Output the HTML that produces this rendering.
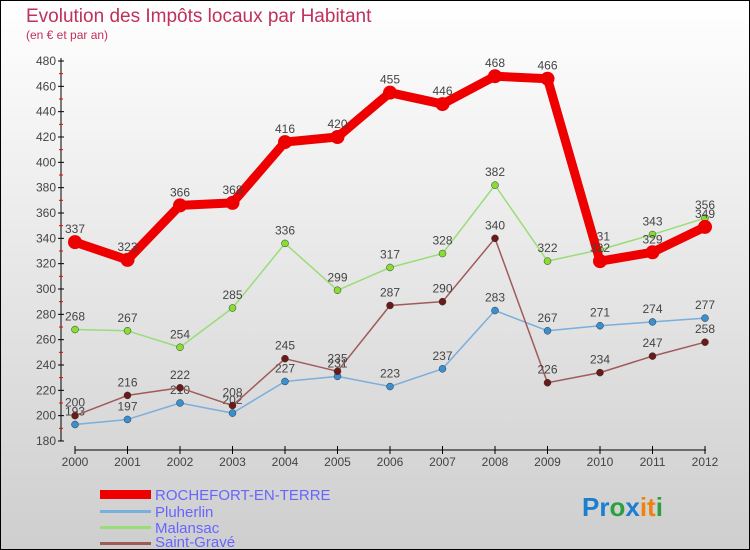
<!DOCTYPE html>
<html><head><meta charset="utf-8"><style>
body{margin:0}
#c{width:750px;height:550px;position:relative;font-family:"Liberation Sans",sans-serif;overflow:hidden}
</style></head><body>
<div id="c">
<svg width="750" height="550" id="svg">
<defs><linearGradient id="bg" x1="0" y1="0" x2="0" y2="1"><stop offset="0" stop-color="#ffffff"/><stop offset="1" stop-color="#cecece"/></linearGradient></defs>
<rect x="0.5" y="0.5" width="749" height="549" fill="url(#bg)" stroke="#000"/>
<text x="26" y="22" font-size="19" fill="#c0305a">Evolution des Impôts locaux par Habitant</text>
<text x="26" y="39" font-size="12" fill="#c0305a">(en € et par an)</text>
<g id="axes"></g><g id="series"></g>
<g>
<rect x="100" y="490" width="51" height="9" fill="#e00"/>
<text x="155" y="500" font-size="15" fill="#6666ff">ROCHEFORT-EN-TERRE</text>
<rect x="100" y="510" width="51" height="3" fill="#7aaedc"/>
<text x="155" y="517" font-size="15" fill="#6666ff">Pluherlin</text>
<rect x="100" y="526" width="51" height="3" fill="#99dd77"/>
<text x="155" y="533" font-size="15" fill="#6666ff">Malansac</text>
<rect x="100" y="542" width="51" height="3" fill="#a05a5a"/>
<text x="155" y="547" font-size="15" fill="#6666ff">Saint-Gravé</text>
</g>
<text x="582" y="516" font-size="26" font-weight="bold"><tspan fill="#1a7fd0">Pr</tspan><tspan fill="#2aa040">o</tspan><tspan fill="#1a7fd0">x</tspan><tspan fill="#f08010">it</tspan><tspan fill="#2aa040">i</tspan></text>
</svg>
</div>
<script>
const years=[2000,2001,2002,2003,2004,2005,2006,2007,2008,2009,2010,2011,2012];
const rochefort=[337,323,366,368,416,420,455,446,468,466,322,329,349];
const pluherlin=[193,197,210,202,227,231,223,237,283,267,271,274,277];
const malansac=[268,267,254,285,336,299,317,328,382,322,331,343,356];
const saintGrave=[200,216,222,208,245,235,287,290,340,226,234,247,258];
const yTicks=[180,200,220,240,260,280,300,320,340,360,380,400,420,440,460,480];
const NS="http://www.w3.org/2000/svg";
function X(i){return 75+i*52.5;}
function Y(v){return 441-(v-180)*380/300;}
function mk(tag,attrs,parent){const e=document.createElementNS(NS,tag);for(const k in attrs)e.setAttribute(k,attrs[k]);parent.appendChild(e);return e;}
const ax=document.getElementById('axes');
let l=mk('line',{x1:61,y1:58,x2:61,y2:441,stroke:'#000','stroke-width':1},ax);


l=mk('line',{x1:75,y1:450,x2:706,y2:450,stroke:'#000','stroke-width':1},ax);


yTicks.forEach((v,k)=>{
 mk('line',{x1:58,x2:64,y1:Y(v),y2:Y(v),stroke:'#000'},ax);
 if(k<yTicks.length-1)mk('line',{x1:59,x2:63,y1:Y(v+10),y2:Y(v+10),stroke:'#e00'},ax);
 const t=mk('text',{x:56,y:Y(v)+4,'font-size':12,fill:'#444','text-anchor':'end'},ax);
 t.textContent=v;
 
 
});
years.forEach((y,i)=>{
 mk('line',{x1:X(i),x2:X(i),y1:446,y2:454,stroke:'#000'},ax);
 const t=mk('text',{x:X(i),y:466,'font-size':12,fill:'#444','text-anchor':'middle'},ax);
 t.textContent=y;
 
 
});
const sg=document.getElementById('series');
function draw(vals,color,w,r,name,dot){
 const g=mk('g',{},sg);
 
 
 const p=mk('polyline',{points:vals.map((v,i)=>X(i)+','+Y(v)).join(' '),fill:'none',stroke:color,'stroke-width':w,'stroke-linejoin':'round'},g);
 
 
 vals.forEach((v,i)=>{
  const c=mk('circle',{cx:X(i),cy:Y(v),r:r,fill:dot,stroke:w>3?'none':'#333','stroke-width':0.5},g);
  
  
  const t=mk('text',{x:X(i),y:Y(v)-9,'font-size':12,fill:'#444','text-anchor':'middle'},g);
  t.textContent=v;
  
  
 });
}
draw(malansac,'#99dd77',1.5,3.5,'malansac','#88dd33');
draw(pluherlin,'#7aaedc',1.5,3.5,'pluherlin','#3a8fd0');
draw(saintGrave,'#a05a5a',1.5,3.5,'saint-grave','#6b1a1a');
draw(rochefort,'#ee0000',9,7,'rochefort','#ee0000');
</script>
</body></html>
